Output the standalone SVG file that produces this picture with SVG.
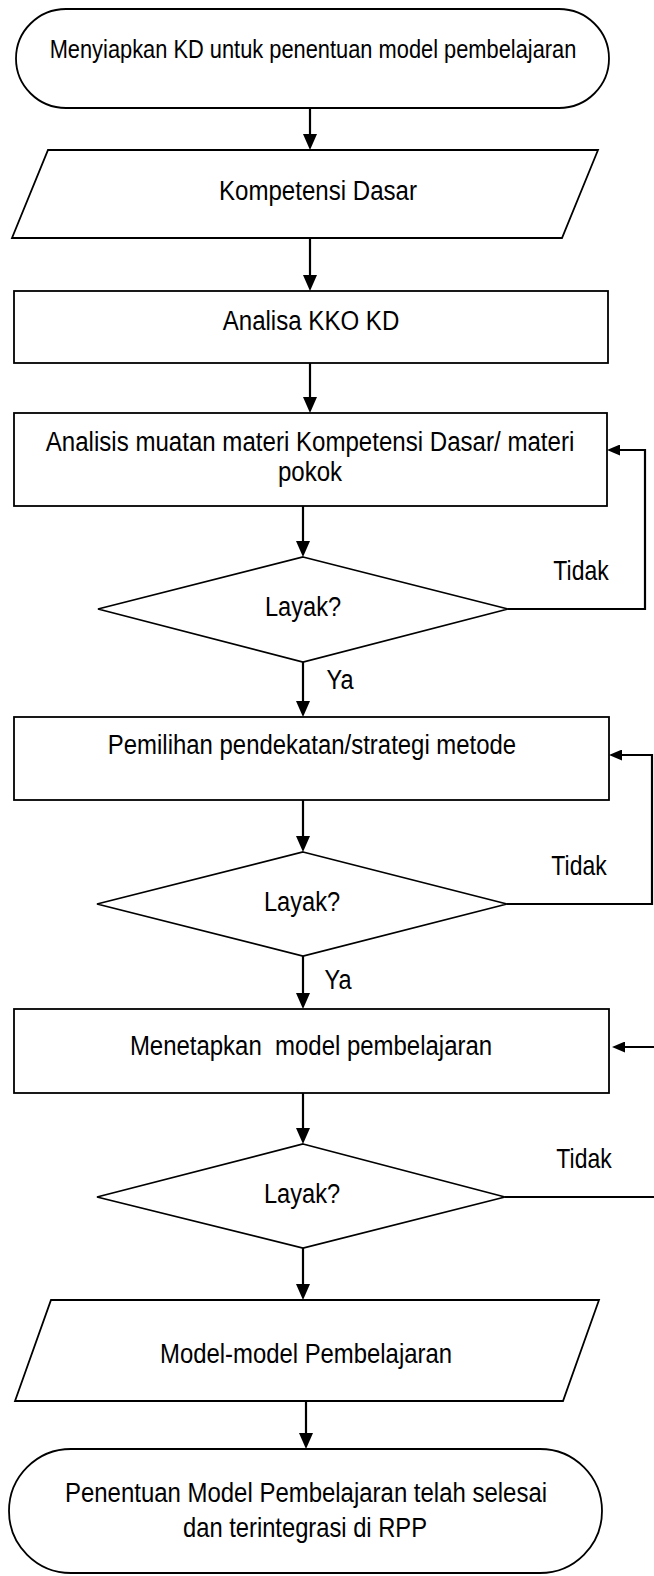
<svg xmlns="http://www.w3.org/2000/svg" width="654" height="1576" viewBox="0 0 654 1576">
<style>
.shape{fill:#fff;stroke:#000;stroke-width:1.8}
.conn{fill:none;stroke:#000;stroke-width:2.2}
.t{font-family:"Liberation Sans",Arial,sans-serif;font-size:28px;fill:#000;text-anchor:middle}
.ts{font-size:26px}
</style>
<defs>
<marker id="arr" viewBox="0 0 16 14" refX="10" refY="7" markerWidth="16" markerHeight="14" markerUnits="userSpaceOnUse" orient="auto">
<path d="M0,0 L16,7 L0,14 Z" fill="#000"/>
</marker>
<marker id="arrS" viewBox="0 0 13 11" refX="8" refY="5.5" markerWidth="13" markerHeight="11" markerUnits="userSpaceOnUse" orient="auto">
<path d="M0,0 L13,5.5 L0,11 Z" fill="#000"/>
</marker>
</defs>
<g id="connectors">
<path class="conn" d="M310,108 V144" marker-end="url(#arr)"/>
<path class="conn" d="M310,238 V285" marker-end="url(#arr)"/>
<path class="conn" d="M310,363 V407" marker-end="url(#arr)"/>
<path class="conn" d="M303,506 V551" marker-end="url(#arr)"/>
<path class="conn" d="M303,662 V711" marker-end="url(#arr)"/>
<path class="conn" d="M303,800 V846" marker-end="url(#arr)"/>
<path class="conn" d="M303,956 V1003" marker-end="url(#arr)"/>
<path class="conn" d="M303,1093 V1138" marker-end="url(#arr)"/>
<path class="conn" d="M303,1248 V1294" marker-end="url(#arr)"/>
<path class="conn" d="M306,1401 V1443" marker-end="url(#arr)"/>
<path class="conn" d="M508,609 H645 V450 H612" marker-end="url(#arrS)"/>
<path class="conn" d="M507,904 H652 V755 H614" marker-end="url(#arrS)"/>
<path class="conn" d="M505,1197 H654"/>
<path class="conn" d="M654,1047 H617" marker-end="url(#arrS)"/>
<text class="t" transform="translate(581,580) scale(0.82,1)">Tidak</text>
<text class="t" transform="translate(579,875) scale(0.82,1)">Tidak</text>
<text class="t" transform="translate(584,1168) scale(0.82,1)">Tidak</text>
<text class="t" transform="translate(340,689) scale(0.84,1)">Ya</text>
<text class="t" transform="translate(338,989) scale(0.84,1)">Ya</text>
</g>
<g id="start">
<rect class="shape" x="16" y="9" width="593" height="99" rx="50" ry="49.5"/>
<text class="t ts" transform="translate(313,58) scale(0.84,1)">Menyiapkan KD untuk penentuan model pembelajaran</text>
</g>
<g id="kompetensi">
<polygon class="shape" points="48,150 598,150 562,238 12,238"/>
<text class="t" transform="translate(318,200) scale(0.86,1)">Kompetensi Dasar</text>
</g>
<g id="analisa">
<rect class="shape" x="14" y="291" width="594" height="72"/>
<text class="t" transform="translate(311,330) scale(0.86,1)">Analisa KKO KD</text>
</g>
<g id="analisis">
<rect class="shape" x="14" y="413" width="593" height="93"/>
<text class="t" transform="translate(310,451) scale(0.86,1)">Analisis muatan materi Kompetensi Dasar/ materi</text>
<text class="t" transform="translate(310,481) scale(0.86,1)">pokok</text>
</g>
<g id="layak1">
<polygon class="shape" points="303,557 508,609 303,662 98,609"/>
<text class="t" transform="translate(303,616) scale(0.845,1)">Layak?</text>
</g>
<g id="pemilihan">
<rect class="shape" x="14" y="717" width="595" height="83"/>
<text class="t" transform="translate(312,754) scale(0.855,1)">Pemilihan pendekatan/strategi metode</text>
</g>
<g id="layak2">
<polygon class="shape" points="303,852 507,904 303,956 97,904"/>
<text class="t" transform="translate(302,911) scale(0.845,1)">Layak?</text>
</g>
<g id="menetapkan">
<rect class="shape" x="14" y="1009" width="595" height="84"/>
<text class="t" transform="translate(311,1055) scale(0.856,1)" xml:space="preserve">Menetapkan  model pembelajaran</text>
</g>
<g id="layak3">
<polygon class="shape" points="303,1144 505,1197 303,1248 97,1197"/>
<text class="t" transform="translate(302,1203) scale(0.845,1)">Layak?</text>
</g>
<g id="model">
<polygon class="shape" points="51,1300 599,1300 563,1401 15,1401"/>
<text class="t" transform="translate(306,1363) scale(0.853,1)">Model-model Pembelajaran</text>
</g>
<g id="end">
<rect class="shape" x="9" y="1449" width="593" height="124" rx="62" ry="62"/>
<text class="t" transform="translate(306,1502) scale(0.856,1)">Penentuan Model Pembelajaran telah selesai</text>
<text class="t" transform="translate(305,1537) scale(0.848,1)">dan terintegrasi di RPP</text>
</g>
</svg>
